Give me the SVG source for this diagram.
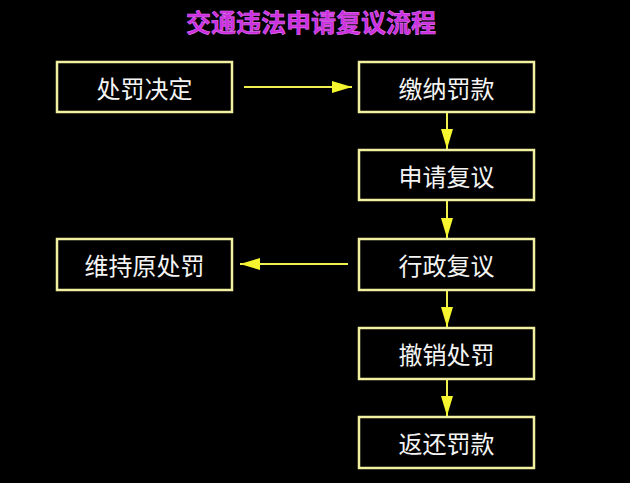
<svg xmlns="http://www.w3.org/2000/svg" width="630" height="483" viewBox="0 0 630 483">
<defs>
<style>
.box{fill:#000;stroke:#f0f0a0;stroke-width:2.5}
.lbl{font-family:"Noto Sans CJK SC","Noto Sans",sans-serif;font-size:24px;fill:#f4f4f4;text-anchor:middle;dominant-baseline:central}
.title{font-family:"Noto Sans CJK SC","Noto Sans",sans-serif;font-size:25px;font-weight:bold;fill:#cc2ee0;stroke:#e070f0;stroke-width:0.6;text-anchor:middle}
.conn{stroke:#f0f050;stroke-width:2;fill:none;marker-end:url(#ah)}
</style>
<marker id="ah" viewBox="0 0 20 12" refX="20" refY="6" markerWidth="20" markerHeight="12" markerUnits="userSpaceOnUse" orient="auto">
<path d="M0,0 L20,6 L0,12 Z" fill="#f5f530"/>
</marker>
</defs>
<rect width="630" height="483" fill="#000"/>
<text class="title" x="311" y="32">交通违法申请复议流程</text>
<g id="n1"><rect class="box" x="57" y="62" width="175" height="50"/><text class="lbl" x="144.5" y="87">处罚决定</text></g>
<g id="n2"><rect class="box" x="359" y="62" width="175" height="50"/><text class="lbl" x="446.5" y="87">缴纳罚款</text></g>
<g id="n3"><rect class="box" x="359" y="150" width="175" height="50"/><text class="lbl" x="446.5" y="175">申请复议</text></g>
<g id="n4"><rect class="box" x="359" y="239" width="175" height="51"/><text class="lbl" x="446.5" y="264.5">行政复议</text></g>
<g id="n5"><rect class="box" x="57" y="239" width="175" height="51"/><text class="lbl" x="144.5" y="264.5">维持原处罚</text></g>
<g id="n6"><rect class="box" x="359" y="328" width="175" height="51"/><text class="lbl" x="446.5" y="353.5">撤销处罚</text></g>
<g id="n7"><rect class="box" x="359" y="417" width="175" height="51"/><text class="lbl" x="446.5" y="442.5">返还罚款</text></g>
<g id="connectors">
<line class="conn" x1="244" y1="87" x2="352" y2="87"/>
<line class="conn" x1="447" y1="113" x2="447" y2="149"/>
<line class="conn" x1="447" y1="201" x2="447" y2="238"/>
<line class="conn" x1="348" y1="264" x2="240" y2="264"/>
<line class="conn" x1="447" y1="291" x2="447" y2="327"/>
<line class="conn" x1="447" y1="380" x2="447" y2="416"/>
</g>
</svg>
